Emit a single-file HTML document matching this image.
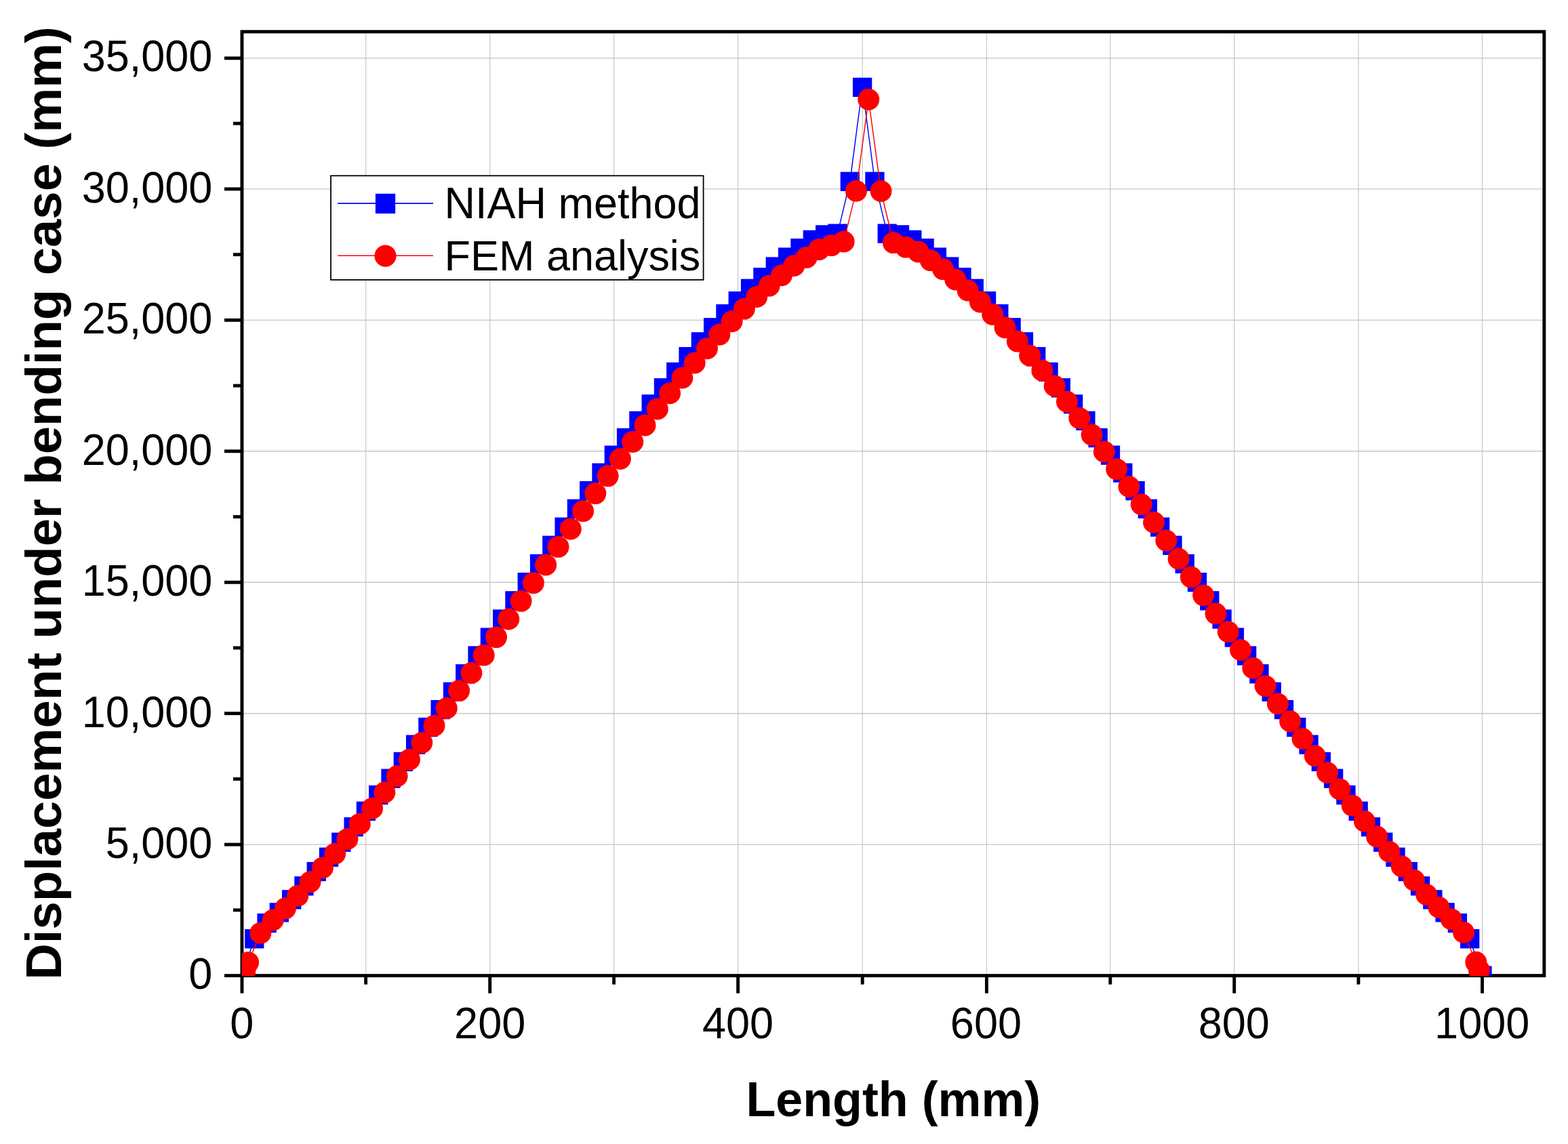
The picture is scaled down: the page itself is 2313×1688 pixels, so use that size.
<!DOCTYPE html>
<html lang="en">
<head>
<meta charset="utf-8">
<title>Displacement under bending case</title>
<style>
html,body{margin:0;padding:0;background:#fff;}
body{width:2313px;height:1688px;overflow:hidden;}
svg{display:block;}
text{font-family:"Liberation Sans",Arial,Helvetica,sans-serif;fill:#000;}
.tick{font-size:63px;}
.lg{font-size:62.95px;}
.xt{font-size:71.8px;font-weight:bold;}
.yt{font-size:74.26px;font-weight:bold;}
</style>
</head>
<body>
<svg width="2313" height="1688" viewBox="0 0 2313 1688">
<rect x="0" y="0" width="2313" height="1688" fill="#fff"/>
<defs><clipPath id="plot"><rect x="356.8" y="46.7" width="1921.2" height="1393.4"/></clipPath></defs>
<g stroke="#cbcbcb" stroke-width="1.3" fill="none">
<line x1="539.59" y1="46.78" x2="539.59" y2="1439.58"/>
<line x1="722.69" y1="46.78" x2="722.69" y2="1439.58"/>
<line x1="905.58" y1="46.78" x2="905.58" y2="1439.58"/>
<line x1="1088.62" y1="46.78" x2="1088.62" y2="1439.58"/>
<line x1="1272.21" y1="46.78" x2="1272.21" y2="1439.58"/>
<line x1="1455.41" y1="46.78" x2="1455.41" y2="1439.58"/>
<line x1="1637.8" y1="46.78" x2="1637.8" y2="1439.58"/>
<line x1="1820.69" y1="46.78" x2="1820.69" y2="1439.58"/>
<line x1="2003.89" y1="46.78" x2="2003.89" y2="1439.58"/>
<line x1="2186.5" y1="46.78" x2="2186.5" y2="1439.58"/>
</g>
<g stroke="#c6c6c6" stroke-width="1.4" fill="none">
<line x1="356.95" y1="1246.13" x2="2277.85" y2="1246.13"/>
<line x1="356.95" y1="1052.69" x2="2277.85" y2="1052.69"/>
<line x1="356.95" y1="859.24" x2="2277.85" y2="859.24"/>
<line x1="356.95" y1="665.8" x2="2277.85" y2="665.8"/>
<line x1="356.95" y1="472.35" x2="2277.85" y2="472.35"/>
<line x1="356.95" y1="278.91" x2="2277.85" y2="278.91"/>
<line x1="356.95" y1="85.86" x2="2277.85" y2="85.86"/>
</g>
<g stroke="#000" stroke-width="4.9" fill="none" stroke-linecap="butt">
<rect x="356.95" y="46.78" width="1920.9" height="1392.8"/>
<line x1="356.95" y1="1439.58" x2="356.95" y2="1465.58"/>
<line x1="539.59" y1="1439.58" x2="539.59" y2="1452.58"/>
<line x1="722.69" y1="1439.58" x2="722.69" y2="1465.58"/>
<line x1="905.58" y1="1439.58" x2="905.58" y2="1452.58"/>
<line x1="1088.62" y1="1439.58" x2="1088.62" y2="1465.58"/>
<line x1="1272.21" y1="1439.58" x2="1272.21" y2="1452.58"/>
<line x1="1455.41" y1="1439.58" x2="1455.41" y2="1465.58"/>
<line x1="1637.8" y1="1439.58" x2="1637.8" y2="1452.58"/>
<line x1="1820.69" y1="1439.58" x2="1820.69" y2="1465.58"/>
<line x1="2003.89" y1="1439.58" x2="2003.89" y2="1452.58"/>
<line x1="2186.5" y1="1439.58" x2="2186.5" y2="1465.58"/>
<line x1="330.95" y1="1439.58" x2="356.95" y2="1439.58"/>
<line x1="343.95" y1="1342.86" x2="356.95" y2="1342.86"/>
<line x1="330.95" y1="1246.13" x2="356.95" y2="1246.13"/>
<line x1="343.95" y1="1149.41" x2="356.95" y2="1149.41"/>
<line x1="330.95" y1="1052.69" x2="356.95" y2="1052.69"/>
<line x1="343.95" y1="955.97" x2="356.95" y2="955.97"/>
<line x1="330.95" y1="859.24" x2="356.95" y2="859.24"/>
<line x1="343.95" y1="762.52" x2="356.95" y2="762.52"/>
<line x1="330.95" y1="665.8" x2="356.95" y2="665.8"/>
<line x1="343.95" y1="569.08" x2="356.95" y2="569.08"/>
<line x1="330.95" y1="472.35" x2="356.95" y2="472.35"/>
<line x1="343.95" y1="375.63" x2="356.95" y2="375.63"/>
<line x1="330.95" y1="278.91" x2="356.95" y2="278.91"/>
<line x1="343.95" y1="182.19" x2="356.95" y2="182.19"/>
<line x1="330.95" y1="85.86" x2="356.95" y2="85.86"/>
</g>
<g clip-path="url(#plot)">
<polyline points="356.95,1439.58 375.24,1385.22 393.54,1362.01 411.83,1346.38 430.13,1327.34 448.42,1307.3 466.72,1286.06 485.01,1264.74 503.3,1242.73 521.6,1220.09 539.89,1196.84 558.19,1173.03 576.48,1148.71 594.78,1123.91 613.07,1098.69 631.36,1073.07 649.66,1047.1 667.95,1020.83 686.25,994.3 704.54,967.54 722.84,940.61 741.13,913.53 759.42,886.36 777.72,859.14 796.01,831.91 814.31,804.73 832.6,777.66 850.9,750.76 869.19,724.08 887.48,697.7 905.78,671.67 924.07,646.05 942.37,620.9 960.66,596.29 978.96,572.26 997.25,548.89 1015.54,526.24 1033.84,504.35 1052.13,483.3 1070.43,463.14 1088.72,444.23 1107.07,425.81 1125.42,409.18 1143.77,393.47 1162.12,379.54 1180.47,366.15 1198.83,353.85 1217.18,346.38 1235.53,344.57 1253.82,267.84 1272.12,128.8 1290.41,267.84 1308.7,344.57 1327,346.38 1345.29,353.85 1363.59,366.15 1381.88,379.54 1400.18,393.47 1418.47,409.18 1436.76,425.81 1455.06,444.23 1473.35,463.14 1491.65,483.3 1509.94,504.35 1528.24,526.24 1546.53,548.89 1564.82,572.26 1583.12,596.29 1601.41,620.9 1619.71,646.05 1638,671.67 1656.29,697.7 1674.57,724.08 1692.85,750.76 1711.14,777.66 1729.42,804.73 1747.71,831.91 1765.99,859.14 1784.28,886.36 1802.56,913.53 1820.84,940.61 1839.13,967.54 1857.41,994.3 1875.7,1020.83 1893.98,1047.1 1912.27,1073.07 1930.55,1098.69 1948.83,1123.91 1967.12,1148.71 1985.4,1173.03 2003.69,1196.84 2021.96,1220.09 2040.24,1242.73 2058.51,1264.74 2076.78,1286.06 2095.06,1307.3 2113.33,1327.34 2131.61,1346.38 2149.88,1362.01 2168.16,1385.22 2186.43,1439.58" fill="none" stroke="#0000ff" stroke-width="1.45" stroke-linejoin="round"/>
<g fill="#0000ff">
<rect x="361.09" y="1371.07" width="28.3" height="28.3"/>
<rect x="379.39" y="1347.86" width="28.3" height="28.3"/>
<rect x="397.68" y="1332.23" width="28.3" height="28.3"/>
<rect x="415.98" y="1313.19" width="28.3" height="28.3"/>
<rect x="434.27" y="1293.15" width="28.3" height="28.3"/>
<rect x="452.57" y="1271.91" width="28.3" height="28.3"/>
<rect x="470.86" y="1250.59" width="28.3" height="28.3"/>
<rect x="489.15" y="1228.58" width="28.3" height="28.3"/>
<rect x="507.45" y="1205.94" width="28.3" height="28.3"/>
<rect x="525.74" y="1182.69" width="28.3" height="28.3"/>
<rect x="544.04" y="1158.88" width="28.3" height="28.3"/>
<rect x="562.33" y="1134.56" width="28.3" height="28.3"/>
<rect x="580.63" y="1109.76" width="28.3" height="28.3"/>
<rect x="598.92" y="1084.54" width="28.3" height="28.3"/>
<rect x="617.21" y="1058.92" width="28.3" height="28.3"/>
<rect x="635.51" y="1032.95" width="28.3" height="28.3"/>
<rect x="653.8" y="1006.68" width="28.3" height="28.3"/>
<rect x="672.1" y="980.15" width="28.3" height="28.3"/>
<rect x="690.39" y="953.39" width="28.3" height="28.3"/>
<rect x="708.69" y="926.46" width="28.3" height="28.3"/>
<rect x="726.98" y="899.38" width="28.3" height="28.3"/>
<rect x="745.27" y="872.21" width="28.3" height="28.3"/>
<rect x="763.57" y="844.99" width="28.3" height="28.3"/>
<rect x="781.86" y="817.76" width="28.3" height="28.3"/>
<rect x="800.16" y="790.58" width="28.3" height="28.3"/>
<rect x="818.45" y="763.51" width="28.3" height="28.3"/>
<rect x="836.75" y="736.61" width="28.3" height="28.3"/>
<rect x="855.04" y="709.93" width="28.3" height="28.3"/>
<rect x="873.33" y="683.55" width="28.3" height="28.3"/>
<rect x="891.63" y="657.52" width="28.3" height="28.3"/>
<rect x="909.92" y="631.9" width="28.3" height="28.3"/>
<rect x="928.22" y="606.75" width="28.3" height="28.3"/>
<rect x="946.51" y="582.14" width="28.3" height="28.3"/>
<rect x="964.81" y="558.11" width="28.3" height="28.3"/>
<rect x="983.1" y="534.74" width="28.3" height="28.3"/>
<rect x="1001.39" y="512.09" width="28.3" height="28.3"/>
<rect x="1019.69" y="490.2" width="28.3" height="28.3"/>
<rect x="1037.98" y="469.15" width="28.3" height="28.3"/>
<rect x="1056.28" y="448.99" width="28.3" height="28.3"/>
<rect x="1074.57" y="430.08" width="28.3" height="28.3"/>
<rect x="1092.92" y="411.66" width="28.3" height="28.3"/>
<rect x="1111.27" y="395.03" width="28.3" height="28.3"/>
<rect x="1129.62" y="379.32" width="28.3" height="28.3"/>
<rect x="1147.97" y="365.39" width="28.3" height="28.3"/>
<rect x="1166.32" y="352" width="28.3" height="28.3"/>
<rect x="1184.68" y="339.7" width="28.3" height="28.3"/>
<rect x="1203.03" y="332.23" width="28.3" height="28.3"/>
<rect x="1221.38" y="330.42" width="28.3" height="28.3"/>
<rect x="1239.67" y="253.69" width="28.3" height="28.3"/>
<rect x="1257.96" y="114.65" width="28.3" height="28.3"/>
<rect x="1276.26" y="253.69" width="28.3" height="28.3"/>
<rect x="1294.55" y="330.42" width="28.3" height="28.3"/>
<rect x="1312.85" y="332.23" width="28.3" height="28.3"/>
<rect x="1331.14" y="339.7" width="28.3" height="28.3"/>
<rect x="1349.44" y="352" width="28.3" height="28.3"/>
<rect x="1367.73" y="365.39" width="28.3" height="28.3"/>
<rect x="1386.03" y="379.32" width="28.3" height="28.3"/>
<rect x="1404.32" y="395.03" width="28.3" height="28.3"/>
<rect x="1422.61" y="411.66" width="28.3" height="28.3"/>
<rect x="1440.91" y="430.08" width="28.3" height="28.3"/>
<rect x="1459.2" y="448.99" width="28.3" height="28.3"/>
<rect x="1477.5" y="469.15" width="28.3" height="28.3"/>
<rect x="1495.79" y="490.2" width="28.3" height="28.3"/>
<rect x="1514.09" y="512.09" width="28.3" height="28.3"/>
<rect x="1532.38" y="534.74" width="28.3" height="28.3"/>
<rect x="1550.67" y="558.11" width="28.3" height="28.3"/>
<rect x="1568.97" y="582.14" width="28.3" height="28.3"/>
<rect x="1587.26" y="606.75" width="28.3" height="28.3"/>
<rect x="1605.56" y="631.9" width="28.3" height="28.3"/>
<rect x="1623.85" y="657.52" width="28.3" height="28.3"/>
<rect x="1642.14" y="683.55" width="28.3" height="28.3"/>
<rect x="1660.42" y="709.93" width="28.3" height="28.3"/>
<rect x="1678.7" y="736.61" width="28.3" height="28.3"/>
<rect x="1696.99" y="763.51" width="28.3" height="28.3"/>
<rect x="1715.27" y="790.58" width="28.3" height="28.3"/>
<rect x="1733.56" y="817.76" width="28.3" height="28.3"/>
<rect x="1751.84" y="844.99" width="28.3" height="28.3"/>
<rect x="1770.13" y="872.21" width="28.3" height="28.3"/>
<rect x="1788.41" y="899.38" width="28.3" height="28.3"/>
<rect x="1806.69" y="926.46" width="28.3" height="28.3"/>
<rect x="1824.98" y="953.39" width="28.3" height="28.3"/>
<rect x="1843.26" y="980.15" width="28.3" height="28.3"/>
<rect x="1861.55" y="1006.68" width="28.3" height="28.3"/>
<rect x="1879.83" y="1032.95" width="28.3" height="28.3"/>
<rect x="1898.12" y="1058.92" width="28.3" height="28.3"/>
<rect x="1916.4" y="1084.54" width="28.3" height="28.3"/>
<rect x="1934.68" y="1109.76" width="28.3" height="28.3"/>
<rect x="1952.97" y="1134.56" width="28.3" height="28.3"/>
<rect x="1971.25" y="1158.88" width="28.3" height="28.3"/>
<rect x="1989.54" y="1182.69" width="28.3" height="28.3"/>
<rect x="2007.81" y="1205.94" width="28.3" height="28.3"/>
<rect x="2026.09" y="1228.58" width="28.3" height="28.3"/>
<rect x="2044.36" y="1250.59" width="28.3" height="28.3"/>
<rect x="2062.63" y="1271.91" width="28.3" height="28.3"/>
<rect x="2080.91" y="1293.15" width="28.3" height="28.3"/>
<rect x="2099.18" y="1313.19" width="28.3" height="28.3"/>
<rect x="2117.46" y="1332.23" width="28.3" height="28.3"/>
<rect x="2135.73" y="1347.86" width="28.3" height="28.3"/>
<rect x="2154.01" y="1371.07" width="28.3" height="28.3"/>
<rect x="2172.28" y="1425.43" width="28.3" height="28.3"/>
</g>
<polyline points="361.52,1431.65 366.1,1420.12 384.39,1376.63 402.69,1357.56 420.98,1340.34 439.27,1321.69 457.57,1301.23 475.86,1280.58 494.16,1259.61 512.45,1237.95 530.75,1215.64 549.04,1192.72 567.33,1169.25 585.63,1145.25 603.92,1120.79 622.22,1095.9 640.51,1070.63 658.81,1045.02 677.1,1019.12 695.39,992.98 713.69,966.64 731.98,940.14 750.28,913.53 768.57,886.85 786.87,860.16 805.16,833.49 823.45,806.89 841.75,780.42 860.04,754.13 878.34,728.09 896.63,702.34 914.93,676.96 933.22,652 951.51,627.5 969.81,603.55 988.1,580.18 1006.4,557.46 1024.69,535.45 1042.99,514.2 1061.28,493.77 1079.57,474.23 1097.9,455.62 1116.25,438.01 1134.6,421.75 1152.95,406.2 1171.3,391.96 1189.65,379.89 1208,368.28 1226.35,362.09 1244.67,356.44 1262.97,281.7 1281.26,146.79 1299.56,281.97 1317.85,358.15 1336.15,364.61 1354.44,371.53 1372.73,384.11 1391.03,397.1 1409.32,412.46 1427.62,428.52 1445.91,445.58 1464.21,463.95 1482.5,483.3 1500.79,503.59 1519.09,524.74 1537.38,546.71 1555.68,569.42 1573.97,592.83 1592.27,616.86 1610.56,641.45 1628.85,666.56 1647.14,692.11 1665.43,718.04 1683.71,744.3 1702,770.83 1720.28,797.56 1738.56,824.43 1756.85,851.39 1775.13,878.37 1793.42,905.34 1811.7,932.24 1829.99,959.04 1848.27,985.68 1866.55,1012.14 1884.84,1038.36 1903.12,1064.3 1921.41,1089.93 1939.69,1115.19 1957.98,1140.04 1976.26,1164.45 1994.54,1188.37 2012.82,1211.75 2031.1,1234.55 2049.37,1256.73 2067.65,1278.25 2085.92,1298.75 2104.2,1320.03 2122.47,1338.8 2140.74,1356.13 2159.02,1375.7 2177.29,1419.69 2181.86,1431.65" fill="none" stroke="#ff0000" stroke-width="1.45" stroke-linejoin="round"/>
<g fill="#ff0000">
<circle cx="361.52" cy="1431.65" r="15.97"/>
<circle cx="366.1" cy="1420.12" r="15.97"/>
<circle cx="384.39" cy="1376.63" r="15.97"/>
<circle cx="402.69" cy="1357.56" r="15.97"/>
<circle cx="420.98" cy="1340.34" r="15.97"/>
<circle cx="439.27" cy="1321.69" r="15.97"/>
<circle cx="457.57" cy="1301.23" r="15.97"/>
<circle cx="475.86" cy="1280.58" r="15.97"/>
<circle cx="494.16" cy="1259.61" r="15.97"/>
<circle cx="512.45" cy="1237.95" r="15.97"/>
<circle cx="530.75" cy="1215.64" r="15.97"/>
<circle cx="549.04" cy="1192.72" r="15.97"/>
<circle cx="567.33" cy="1169.25" r="15.97"/>
<circle cx="585.63" cy="1145.25" r="15.97"/>
<circle cx="603.92" cy="1120.79" r="15.97"/>
<circle cx="622.22" cy="1095.9" r="15.97"/>
<circle cx="640.51" cy="1070.63" r="15.97"/>
<circle cx="658.81" cy="1045.02" r="15.97"/>
<circle cx="677.1" cy="1019.12" r="15.97"/>
<circle cx="695.39" cy="992.98" r="15.97"/>
<circle cx="713.69" cy="966.64" r="15.97"/>
<circle cx="731.98" cy="940.14" r="15.97"/>
<circle cx="750.28" cy="913.53" r="15.97"/>
<circle cx="768.57" cy="886.85" r="15.97"/>
<circle cx="786.87" cy="860.16" r="15.97"/>
<circle cx="805.16" cy="833.49" r="15.97"/>
<circle cx="823.45" cy="806.89" r="15.97"/>
<circle cx="841.75" cy="780.42" r="15.97"/>
<circle cx="860.04" cy="754.13" r="15.97"/>
<circle cx="878.34" cy="728.09" r="15.97"/>
<circle cx="896.63" cy="702.34" r="15.97"/>
<circle cx="914.93" cy="676.96" r="15.97"/>
<circle cx="933.22" cy="652" r="15.97"/>
<circle cx="951.51" cy="627.5" r="15.97"/>
<circle cx="969.81" cy="603.55" r="15.97"/>
<circle cx="988.1" cy="580.18" r="15.97"/>
<circle cx="1006.4" cy="557.46" r="15.97"/>
<circle cx="1024.69" cy="535.45" r="15.97"/>
<circle cx="1042.99" cy="514.2" r="15.97"/>
<circle cx="1061.28" cy="493.77" r="15.97"/>
<circle cx="1079.57" cy="474.23" r="15.97"/>
<circle cx="1097.9" cy="455.62" r="15.97"/>
<circle cx="1116.25" cy="438.01" r="15.97"/>
<circle cx="1134.6" cy="421.75" r="15.97"/>
<circle cx="1152.95" cy="406.2" r="15.97"/>
<circle cx="1171.3" cy="391.96" r="15.97"/>
<circle cx="1189.65" cy="379.89" r="15.97"/>
<circle cx="1208" cy="368.28" r="15.97"/>
<circle cx="1226.35" cy="362.09" r="15.97"/>
<circle cx="1244.67" cy="356.44" r="15.97"/>
<circle cx="1262.97" cy="281.7" r="15.97"/>
<circle cx="1281.26" cy="146.79" r="15.97"/>
<circle cx="1299.56" cy="281.97" r="15.97"/>
<circle cx="1317.85" cy="358.15" r="15.97"/>
<circle cx="1336.15" cy="364.61" r="15.97"/>
<circle cx="1354.44" cy="371.53" r="15.97"/>
<circle cx="1372.73" cy="384.11" r="15.97"/>
<circle cx="1391.03" cy="397.1" r="15.97"/>
<circle cx="1409.32" cy="412.46" r="15.97"/>
<circle cx="1427.62" cy="428.52" r="15.97"/>
<circle cx="1445.91" cy="445.58" r="15.97"/>
<circle cx="1464.21" cy="463.95" r="15.97"/>
<circle cx="1482.5" cy="483.3" r="15.97"/>
<circle cx="1500.79" cy="503.59" r="15.97"/>
<circle cx="1519.09" cy="524.74" r="15.97"/>
<circle cx="1537.38" cy="546.71" r="15.97"/>
<circle cx="1555.68" cy="569.42" r="15.97"/>
<circle cx="1573.97" cy="592.83" r="15.97"/>
<circle cx="1592.27" cy="616.86" r="15.97"/>
<circle cx="1610.56" cy="641.45" r="15.97"/>
<circle cx="1628.85" cy="666.56" r="15.97"/>
<circle cx="1647.14" cy="692.11" r="15.97"/>
<circle cx="1665.43" cy="718.04" r="15.97"/>
<circle cx="1683.71" cy="744.3" r="15.97"/>
<circle cx="1702" cy="770.83" r="15.97"/>
<circle cx="1720.28" cy="797.56" r="15.97"/>
<circle cx="1738.56" cy="824.43" r="15.97"/>
<circle cx="1756.85" cy="851.39" r="15.97"/>
<circle cx="1775.13" cy="878.37" r="15.97"/>
<circle cx="1793.42" cy="905.34" r="15.97"/>
<circle cx="1811.7" cy="932.24" r="15.97"/>
<circle cx="1829.99" cy="959.04" r="15.97"/>
<circle cx="1848.27" cy="985.68" r="15.97"/>
<circle cx="1866.55" cy="1012.14" r="15.97"/>
<circle cx="1884.84" cy="1038.36" r="15.97"/>
<circle cx="1903.12" cy="1064.3" r="15.97"/>
<circle cx="1921.41" cy="1089.93" r="15.97"/>
<circle cx="1939.69" cy="1115.19" r="15.97"/>
<circle cx="1957.98" cy="1140.04" r="15.97"/>
<circle cx="1976.26" cy="1164.45" r="15.97"/>
<circle cx="1994.54" cy="1188.37" r="15.97"/>
<circle cx="2012.82" cy="1211.75" r="15.97"/>
<circle cx="2031.1" cy="1234.55" r="15.97"/>
<circle cx="2049.37" cy="1256.73" r="15.97"/>
<circle cx="2067.65" cy="1278.25" r="15.97"/>
<circle cx="2085.92" cy="1298.75" r="15.97"/>
<circle cx="2104.2" cy="1320.03" r="15.97"/>
<circle cx="2122.47" cy="1338.8" r="15.97"/>
<circle cx="2140.74" cy="1356.13" r="15.97"/>
<circle cx="2159.02" cy="1375.7" r="15.97"/>
<circle cx="2177.29" cy="1419.69" r="15.97"/>
<circle cx="2181.86" cy="1431.65" r="15.97"/>
</g>
</g>
<g class="tick" text-anchor="end">
<text transform="translate(313.3 1458.78) scale(1 1.04)">0</text>
<text transform="translate(313.3 1266.13) scale(1 1.04)">5,000</text>
<text transform="translate(313.3 1072.69) scale(1 1.04)">10,000</text>
<text transform="translate(313.3 879.24) scale(1 1.04)">15,000</text>
<text transform="translate(313.3 685.8) scale(1 1.04)">20,000</text>
<text transform="translate(313.3 492.35) scale(1 1.04)">25,000</text>
<text transform="translate(313.3 298.91) scale(1 1.04)">30,000</text>
<text transform="translate(313.3 105.46) scale(1 1.04)">35,000</text>
</g>
<g class="tick" text-anchor="middle">
<text transform="translate(356.75 1532.3) scale(1 1.04)">0</text>
<text transform="translate(722.64 1532.3) scale(1 1.04)">200</text>
<text transform="translate(1088.52 1532.3) scale(1 1.04)">400</text>
<text transform="translate(1454.41 1532.3) scale(1 1.04)">600</text>
<text transform="translate(1820.29 1532.3) scale(1 1.04)">800</text>
<text transform="translate(2186.18 1532.3) scale(1 1.04)">1000</text>
</g>
<text class="xt" text-anchor="middle" x="1317.8" y="1647.05">Length (mm)</text>
<text class="yt" text-anchor="middle" transform="translate(90.15 742.4) rotate(-90)">Displacement under bending case (mm)</text>
<rect x="488" y="259.3" width="549.6" height="153.6" fill="#fff" stroke="#000" stroke-width="1.8"/>
<line x1="498.2" y1="300.15" x2="638.9" y2="300.15" stroke="#0000ff" stroke-width="1.6"/>
<rect x="553.85" y="285.8" width="29.3" height="29.3" fill="#0000ff"/>
<line x1="498.2" y1="377.2" x2="638.9" y2="377.2" stroke="#ff0000" stroke-width="1.6"/>
<circle cx="568.5" cy="377.6" r="16.05" fill="#ff0000"/>
<text class="lg" transform="translate(655.6 322) scale(1 1.03)">NIAH method</text>
<text class="lg" transform="translate(655.6 399) scale(1 1)">FEM analysis</text>
</svg>
</body>
</html>
